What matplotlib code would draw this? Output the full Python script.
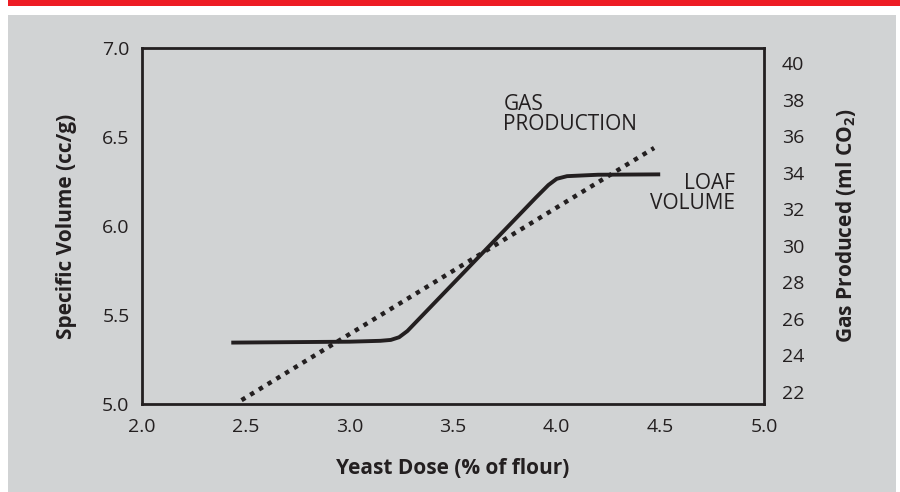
import matplotlib
matplotlib.use('Agg')
import matplotlib.pyplot as plt
from matplotlib.patches import Rectangle

# loaf volume (left axis, cc/g)
loaf_dose = [2.44, 3.0, 3.15, 3.2, 3.24, 3.28, 3.5, 3.7, 3.9, 3.96, 4.0, 4.05, 4.2, 4.49]
loaf_volume = [5.345, 5.35, 5.355, 5.36, 5.375, 5.41, 5.676, 5.918, 6.16, 6.23, 6.265, 6.28, 6.288, 6.29]

# gas production (right axis, ml CO2)
gas_dose = [2.48, 4.47]
gas_volume = [21.55, 35.35]

x_ticks = [2.0, 2.5, 3.0, 3.5, 4.0, 4.5, 5.0]
left_ticks = [5.0, 5.5, 6.0, 6.5, 7.0]
right_ticks = [22, 24, 26, 28, 30, 32, 34, 36, 38, 40]

bg = '#d1d3d4'
ink = '#231f20'

plt.rcParams['font.family'] = ['Open Sans', 'DejaVu Sans']
plt.rcParams['mathtext.default'] = 'regular'

fig = plt.figure(figsize=(9, 4.92), dpi=100)
fig.patch.set_facecolor('white')
# grey panel and red rule on top
fig.patches.append(Rectangle((8 / 900, 0), 888 / 900, (492 - 15) / 492,
                             transform=fig.transFigure, facecolor=bg, edgecolor='none', zorder=-5))
fig.patches.append(Rectangle((8 / 900, (492 - 6) / 492), 892 / 900, 6 / 492,
                             transform=fig.transFigure, facecolor='#ed1c24', edgecolor='none', zorder=-5))

ax = fig.add_axes([142 / 900, 88 / 492, 622 / 900, 356 / 492])
ax.set_facecolor('none')
ax.plot(loaf_dose, loaf_volume, color=ink, linewidth=2.8, solid_joinstyle='round')
ax.set_xlim(2.0, 5.0)
ax.set_ylim(5.0, 7.0)
ax.set_xticks(x_ticks)
ax.set_xticklabels([f'{v:.1f}' for v in x_ticks])
ax.set_yticks(left_ticks)
ax.set_yticklabels([f'{v:.1f}' for v in left_ticks])
ax.tick_params(axis='both', length=0, labelsize=14, colors=ink)
ax.tick_params(axis='x', pad=10)
ax.tick_params(axis='y', pad=9)
for s in ax.spines.values():
    s.set_linewidth(2)
    s.set_color(ink)
ax.set_xlabel('Yeast Dose (% of flour)', fontsize=15, fontweight='bold', color=ink, labelpad=16)
ax.set_ylabel('Specific Volume (cc/g)', fontsize=15, fontweight='bold', color=ink, labelpad=18)

ax2 = ax.twinx()
ax2.plot(gas_dose, gas_volume, color=ink, linewidth=3.2, linestyle=(0, (1, 1.3)))
ax2.set_ylim(21.34, 40.82)
ax2.set_yticks(right_ticks)
ax2.tick_params(axis='y', length=0, labelsize=14, colors=ink, pad=13)
for s in ax2.spines.values():
    s.set_visible(False)
ax2.set_ylabel('Gas Produced (ml CO$_2$)', fontsize=15, fontweight='bold', color=ink, labelpad=21)

ax.text(0.581, 0.87, 'GAS\nPRODUCTION', transform=ax.transAxes, ha='left', va='top',
        fontsize=15, color=ink, linespacing=0.95)
ax.text(0.953, 0.65, 'LOAF\nVOLUME', transform=ax.transAxes, ha='right', va='top',
        fontsize=15, color=ink, linespacing=0.95, multialignment='right')

fig.savefig('out.png', dpi=100, facecolor=fig.get_facecolor())
